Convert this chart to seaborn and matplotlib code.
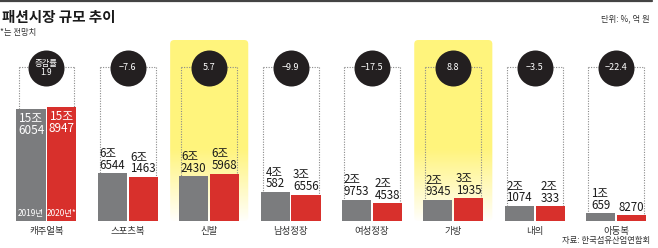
import matplotlib
matplotlib.use("Agg")
import matplotlib.pyplot as plt
import seaborn as sns
import pandas as pd
import numpy as np
from matplotlib.patches import FancyBboxPatch
from matplotlib.lines import Line2D

categories = ["캐주얼복", "스포츠복", "신발", "남성정장", "여성정장", "가방", "내의", "아동복"]
values_2019 = [156054, 66544, 62430, 40582, 29753, 29345, 21074, 10659]
values_2020 = [158947, 61463, 65968, 36556, 24538, 31935, 20333, 8270]
change_rates = [1.9, -7.6, 5.7, -9.9, -17.5, 8.8, -3.5, -22.4]
years = ["2019년", "2020년*"]
highlighted = ["신발", "가방"]

sns.set_theme(style="white")
plt.rcParams['font.family'] = ['Noto Sans CJK KR', 'DejaVu Sans']
plt.rcParams['axes.unicode_minus'] = True

GRAY = "#7b7c7e"
RED = "#d8302c"
YELLOW = (1.0, 0.957, 0.49)
DARK = "#231f20"

df = pd.DataFrame({
    "category": categories * 2,
    "value": values_2019 + values_2020,
    "year": [years[0]] * len(categories) + [years[1]] * len(categories),
})

W, H = 658, 248
fig = plt.figure(figsize=(W / 100, H / 100), dpi=100)
ax_h_px = 181
ax = fig.add_axes([5.8 / W, 27 / H, 650.9 / W, ax_h_px / H])
ymax = 252000
py = ax_h_px / ymax  # px per data unit

sns.barplot(data=df, x="category", y="value", hue="year", palette=[GRAY, RED],
            width=0.76, gap=0.06, saturation=1, legend=False, ax=ax,
            linewidth=0, zorder=3)
ax.set_xlim(-0.5, len(categories) - 0.5)
ax.set_ylim(0, ymax)
ax.set_yticks([])
ax.set_xlabel("")
ax.set_ylabel("")
for s in ax.spines.values():
    s.set_visible(False)
ax.tick_params(axis="x", length=0, pad=4.5, labelsize=6.8, labelcolor="#333333")
ax.patch.set_alpha(0)

# highlight gradient
N = 300
ys = np.linspace(ymax, 0, N)
fade_start = 100000
alpha = np.where(ys >= fade_start, 1.0, 0.03 + 0.97 * ys / fade_start)
grad = np.zeros((N, 1, 4))
grad[..., 0] = YELLOW[0]
grad[..., 1] = YELLOW[1]
grad[..., 2] = YELLOW[2]
grad[..., 3] = alpha[:, None]
for i, c in enumerate(categories):
    if c in highlighted:
        x0, x1 = i - 0.48, i + 0.48
        im = ax.imshow(grad, extent=(x0, x1, 0, ymax), aspect="auto", origin="upper",
                       zorder=0, interpolation="bilinear")
        r = 0.05
        clip = FancyBboxPatch((x0, 0), x1 - x0, ymax,
                              boxstyle=f"round,pad=0,rounding_size={r}",
                              mutation_aspect=(4 / py) / r,
                              transform=ax.transData, facecolor="none", edgecolor="none")
        ax.add_patch(clip)
        im.set_clip_path(clip)
ax.set_xlim(-0.5, len(categories) - 0.5)
ax.set_ylim(0, ymax)

bars19 = ax.containers[0]
bars20 = ax.containers[1]

def fmt(v):
    jo, rest = divmod(v, 10000)
    return f"{jo}조\n{rest}" if jo else f"{rest}"

bracket_y = (221 - 67) / py
circle_y = (221 - 68) / py
dot_kw = dict(color="#8a8a8a", lw=0.8, linestyle=(0, (1, 1.3)), zorder=2)

for i, c in enumerate(categories):
    b0, b1 = bars19[i], bars20[i]
    xl = b0.get_x() + 0.025
    xr = b1.get_x() + b1.get_width() - 0.025
    ax.plot([xl, xr], [bracket_y, bracket_y], **dot_kw)
    ax.plot([xl, xl], [bracket_y, b0.get_height()], **dot_kw)
    ax.plot([xr, xr], [bracket_y, b1.get_height()], **dot_kw)

    cx = i
    ax.scatter([cx], [circle_y], s=672, color=DARK, zorder=5, linewidths=0)
    r = change_rates[i]
    rs = f"{r:.1f}".replace("-", "−")
    if i == 0:
        ax.text(cx, circle_y, "증감률\n" + rs, color="white", fontsize=6, ha="center",
                va="center", linespacing=1.0, zorder=6)
    else:
        ax.text(cx, circle_y, rs, color="white", fontsize=6.5, ha="center",
                va="center", zorder=6)

    for b, v in ((b0, values_2019[i]), (b1, values_2020[i])):
        bx = b.get_x() + b.get_width() / 2
        if i == 0:
            ax.text(bx, v - 3 / py, fmt(v), color="white", fontsize=8.5, ha="center",
                    va="top", multialignment="center", linespacing=0.9, zorder=6)
        else:
            ax.text(bx, v + 1.5 / py, fmt(v), color="#1a1a1a", fontsize=8.3, ha="center",
                    va="bottom", multialignment="left", linespacing=0.88, zorder=6)

# year labels inside first group
for b, yl in ((bars19[0], years[0]), (bars20[0], years[1])):
    ax.text(b.get_x() + b.get_width() / 2, 7.5 / py, yl, color="white", fontsize=6,
            ha="center", va="center", zorder=6)

# header texts
fig.add_artist(Line2D([0, 652 / W], [1 - 1 / H, 1 - 1 / H], color="#444444", lw=1.6))
fig.text(2 / W, 1 - 17 / H, "패션시장 규모 추이", fontsize=10.5, fontweight="bold",
         ha="left", va="center", color="#1a1a1a")
fig.text(0 / W, 1 - 33 / H, "*는 전망치", fontsize=6, ha="left", va="center", color="#333333")
fig.text(650 / W, 1 - 19 / H, "단위: %, 억 원", fontsize=6, ha="right", va="center", color="#333333")
fig.text(650 / W, 1 - 241 / H, "자료: 한국섬유산업연합회", fontsize=6, ha="right", va="center",
         color="#333333")

fig.savefig("out.png", dpi=100, facecolor="white")
